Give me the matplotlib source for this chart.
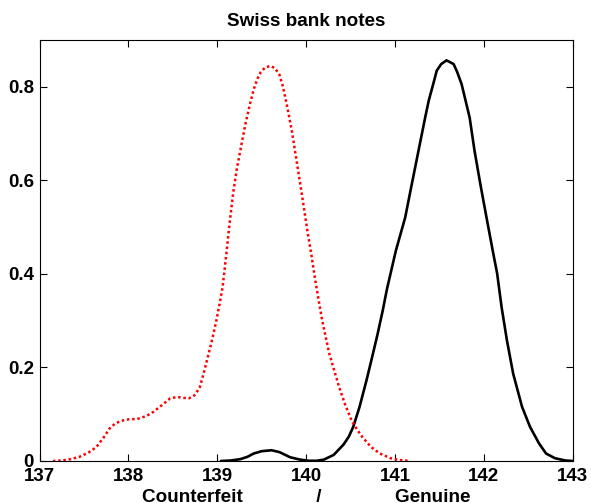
import matplotlib
matplotlib.use("Agg")
import matplotlib.pyplot as plt

plt.rcParams['font.family'] = ['Liberation Sans', 'DejaVu Sans']
plt.rcParams['font.weight'] = 'bold'

# Kernel density estimates of the diagonal length (mm)
counterfeit_x = [137.15, 137.25, 137.35, 137.45, 137.55, 137.64, 137.72, 137.79, 137.85,
                 137.92, 138.0, 138.1, 138.2, 138.28, 138.38, 138.47, 138.55, 138.62,
                 138.68, 138.74, 138.8, 138.85, 138.89, 138.93, 138.96, 138.99, 139.03,
                 139.06, 139.10, 139.14, 139.18, 139.22, 139.27, 139.32, 139.37, 139.41,
                 139.45, 139.49, 139.54, 139.6, 139.65, 139.70, 139.74, 139.79, 139.84,
                 139.89, 139.94, 139.98, 140.02, 140.06, 140.1, 140.14, 140.18, 140.26,
                 140.37, 140.44, 140.51, 140.57, 140.63, 140.73, 140.83, 140.95, 141.05,
                 141.17]
counterfeit_y = [0.0, 0.001, 0.004, 0.009, 0.018, 0.03, 0.05, 0.07, 0.08,
                 0.086, 0.089, 0.09, 0.096, 0.105, 0.12, 0.134, 0.137, 0.135,
                 0.134, 0.14, 0.156, 0.19, 0.22, 0.25, 0.275, 0.301, 0.34,
                 0.372, 0.44, 0.511, 0.575, 0.625, 0.675, 0.724, 0.765, 0.795,
                 0.817, 0.832, 0.842, 0.845, 0.84, 0.826, 0.8, 0.755, 0.705,
                 0.645, 0.585, 0.535, 0.485, 0.44, 0.39, 0.345, 0.301, 0.23,
                 0.159, 0.12, 0.0875, 0.068, 0.052, 0.03, 0.016, 0.006, 0.002,
                 0.0]

genuine_x = [139.04, 139.15, 139.26, 139.34, 139.41, 139.5, 139.61, 139.7, 139.82,
             139.93, 140.03, 140.12, 140.2, 140.31, 140.42, 140.48, 140.53, 140.6,
             140.68, 140.74, 140.80, 140.86, 140.91, 141.01, 141.115, 141.19, 141.265,
             141.34, 141.38, 141.43, 141.47, 141.52, 141.58, 141.66, 141.70, 141.75,
             141.84, 141.895, 141.96, 142.03, 142.10, 142.15, 142.20, 142.26, 142.33,
             142.43, 142.52, 142.62, 142.70, 142.80, 142.92, 143.0]
genuine_y = [0.0, 0.001, 0.004, 0.009, 0.016, 0.021, 0.023, 0.019, 0.008,
             0.003, 0.0005, 0.0005, 0.003, 0.013, 0.035, 0.052, 0.073, 0.115,
             0.173, 0.22, 0.268, 0.32, 0.368, 0.45, 0.521, 0.593, 0.664,
             0.735, 0.771, 0.806, 0.835, 0.849, 0.857, 0.849, 0.832, 0.806,
             0.735, 0.664, 0.593, 0.521, 0.45, 0.401, 0.329, 0.258, 0.187,
             0.116, 0.073, 0.038, 0.016, 0.006, 0.001, 0.0]

x_ticks = [137, 138, 139, 140, 141, 142, 143]
y_ticks = [0, 0.2, 0.4, 0.6, 0.8]
y_tick_labels = ['0', '0.2', '0.4', '0.6', '0.8']

fig = plt.figure(figsize=(5.91, 5.03), dpi=100)
ax = fig.add_axes([0.067, 0.0835, 0.902, 0.8365])

ax.plot(genuine_x, genuine_y, color='black', lw=1.9,
        solid_joinstyle='round', solid_capstyle='round')
ax.plot(counterfeit_x, counterfeit_y, color='#ff0000', lw=1.8, linestyle=(0, (1, 1.1)),
        dash_capstyle='butt')

ax.set_xlim(137, 143)
ax.set_ylim(0, 0.9)
ax.set_xticks(x_ticks)
ax.set_xticklabels([str(t) for t in x_ticks])
ax.set_yticks(y_ticks)
ax.set_yticklabels(y_tick_labels)

ax.tick_params(direction='in', length=5, width=0.8, top=True, right=True,
               labelsize=13.5, pad=5)
ax.tick_params(axis='y', pad=4)
for s in ax.spines.values():
    s.set_linewidth(0.8)

ax.set_title('Swiss bank notes', fontsize=13.6, fontweight='bold', pad=10)
ax.set_xlabel('Counterfeit' + ' ' * 14 + '/' + ' ' * 14 + 'Genuine',
              fontsize=13.6, fontweight='bold', labelpad=3)

fig.savefig('out.png', dpi=100)
